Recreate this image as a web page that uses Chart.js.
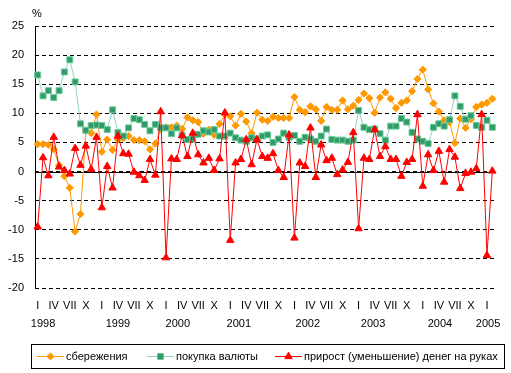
<!DOCTYPE html>
<html lang="ru">
<head>
<meta charset="UTF-8">
<title>Сбережения, покупка валюты и прирост денег на руках</title>
<script src="https://cdn.jsdelivr.net/npm/chart.js"></script>
<style>
  html, body { margin: 0; padding: 0; background: #fff; }
  #chart { display: block; }
</style>
</head>
<body>
<canvas id="chart" width="511" height="373"></canvas>
<script>
// месяцы: январь 1998 - февраль 2005
const years = ['1998', '1999', '2000', '2001', '2002', '2003', '2004', '2005'];
const quarterNames = ['I', '', '', 'IV', '', '', 'VII', '', '', 'X', '', ''];
const monthCount = 86;
// где стоят подписи годов (в месяцах от января 1998)
const yearPos = [1, 15, 26.2, 37.6, 50.5, 62.7, 75.2, 84.2];
const yTicks = [25, 20, 15, 10, 5, 0, -5, -10, -15, -20];

const savings = [
  4.7, 4.7, 4.6, 3.8, 1.1, -0.8, -2.8, -10.3, -7.3, 7.0, 6.6, 9.8,
  3.4, 5.5, 3.7, 5.5, 5.7, 6.1, 5.4, 5.4, 5.2, 3.8, 4.8, 7.3,
  7.6, 7.6, 7.9, 7.3, 9.3, 8.8, 8.5, 6.5, 7.2, 6.3, 8.2, 9.8,
  9.5, 7.9, 9.9, 8.6, 6.6, 10.1, 8.9, 8.7, 9.4, 9.2, 9.2, 9.2,
  12.8, 10.6, 10.2, 11.2, 10.7, 8.7, 11.1, 10.6, 10.6, 12.2, 10.7, 11.3,
  12.3, 13.4, 12.6, 10.1, 12.7, 13.6, 12.5, 10.9, 11.8, 12.2, 13.8, 15.9,
  17.5, 14.1, 11.7, 10.3, 8.8, 8.5, 4.9, 9.1, 7.5, 9.0, 11.1, 11.5,
  11.8, 12.5
];
const currency = [
  16.6, 13.0, 13.9, 12.7, 13.9, 17.1, 19.2, 15.4, 8.2, 7.1, 7.9, 8.0,
  7.9, 7.2, 10.6, 6.7, 6.1, 7.5, 9.1, 8.9, 8.1, 7.0, 8.1, 7.5,
  7.5, 6.5, 7.5, 6.2, 5.5, 5.6, 6.4, 7.0, 6.8, 7.2, 6.1, 6.1,
  6.6, 5.8, 5.4, 5.2, 5.8, 5.6, 6.1, 6.3, 5.0, 5.6, 6.6, 5.9,
  6.2, 5.2, 5.9, 5.6, 5.2, 6.1, 7.3, 5.5, 5.4, 5.4, 5.2, 5.4,
  10.5, 7.6, 7.2, 7.3, 6.5, 5.4, 7.8, 7.8, 9.1, 8.5, 6.7, 5.6,
  5.2, 4.8, 7.6, 8.2, 7.8, 8.9, 13.0, 11.2, 9.0, 9.6, 7.9, 7.6,
  8.8, 7.6
];
const cashChange = [
  -9.5, 2.4, -0.7, 5.9, 0.8, 0.2, -0.4, 4.0, 1.1, 4.4, 0.4, 5.9,
  -6.2, 0.9, -2.8, 6.1, 3.1, 3.0, -0.1, -0.7, -1.5, 2.1, -0.6, 10.3,
  -14.8, 2.2, 2.1, 6.2, 2.6, 6.6, 2.9, 1.5, 2.3, 0.2, 2.2, 10.1,
  -11.8, 1.5, 2.1, 5.5, 1.2, 5.5, 2.6, 2.3, 3.1, 0.2, -1.0, 6.3,
  -11.4, 1.5, 0.9, 7.5, -1.0, 4.6, 1.9, 2.3, -0.5, 0.3, 1.6, 6.7,
  -9.8, 2.3, 2.1, 7.2, 2.6, 4.3, 2.1, 2.1, -0.8, 1.6, 2.1, 9.8,
  -2.5, 2.9, 0.2, 3.5, -1.8, 3.8, 2.5, -2.9, -0.3, -0.1, 0.5, 9.8,
  -14.4, 0.1
];

const labels = [];
for (let i = 0; i < monthCount; i++) {
  labels.push(years[Math.floor(i / 12)] + '-' + (i % 12 + 1));
}

const FONT = "'Liberation Sans', Arial, sans-serif";
Chart.defaults.font.family = FONT;
Chart.defaults.font.size = 11;
Chart.defaults.color = '#000';

const series = [
  { label: 'сбережения', data: savings, line: '#ff9900', fill: '#ff9900', edge: '#ff9900', shape: 'rectRot', radius: 3.6, order: 3 },
  { label: 'покупка валюты', data: currency, line: '#8fd0c4', fill: '#339966', edge: '#66cc99', shape: 'rect', radius: 4.2, order: 2 },
  { label: 'прирост (уменьшение) денег на руках', data: cashChange, line: '#ff0000', fill: '#ff0000', edge: '#ff0000', shape: 'triangle', radius: 4.3, order: 1 }
];

// оси, подписи годов, "%" и легенда
const decor = {
  id: 'decor',
  beforeDatasetsDraw(chart) {
    const { ctx, chartArea: a, scales: { y } } = chart;
    const y0 = Math.round(y.getPixelForValue(0)) + 0.5;
    ctx.save();
    ctx.strokeStyle = '#000';
    ctx.lineWidth = 1;
    ctx.beginPath();
    ctx.moveTo(a.left, y0);
    ctx.lineTo(a.right, y0);
    ctx.moveTo(Math.round(a.left) + 0.5, a.top);
    ctx.lineTo(Math.round(a.left) + 0.5, a.bottom);
    ctx.stroke();
    ctx.restore();
  },
  afterDraw(chart) {
    const { ctx, chartArea: a, scales: { x } } = chart;
    const x0 = x.getPixelForValue(0);
    const step = x.getPixelForValue(1) - x0;
    ctx.save();
    ctx.fillStyle = '#000';
    ctx.font = '11px ' + FONT;
    ctx.textAlign = 'center';
    ctx.textBaseline = 'middle';
    years.forEach((yr, i) => ctx.fillText(yr, x0 + yearPos[i] * step, a.bottom + 36));
    ctx.fillText('%', a.left + 2, 14);

    // легенда
    const top = 344, h = 24, cy = top + h / 2;
    ctx.strokeStyle = '#000';
    ctx.lineWidth = 1;
    ctx.strokeRect(31.5, top + 0.5, 473, h);
    const legendX = [37, 147, 275];
    ctx.textAlign = 'left';
    series.forEach((s, i) => {
      const lx = legendX[i];
      ctx.strokeStyle = s.line;
      ctx.beginPath();
      ctx.moveTo(lx, cy + 0.5);
      ctx.lineTo(lx + 27, cy + 0.5);
      ctx.stroke();
      drawMarker(ctx, s, lx + 13.5, cy + 0.5);
      ctx.fillStyle = '#000';
      ctx.fillText(s.label, lx + 29, cy + 1);
    });
    ctx.restore();
  }
};

function drawMarker(ctx, s, cx, cy) {
  const r = s.radius;
  ctx.save();
  ctx.fillStyle = s.fill;
  ctx.strokeStyle = s.edge;
  ctx.lineWidth = 1;
  ctx.beginPath();
  if (s.shape === 'rect') {
    const h = r * Math.SQRT1_2;
    ctx.rect(cx - h, cy - h, 2 * h, 2 * h);
  } else if (s.shape === 'rectRot') {
    ctx.moveTo(cx, cy - r);
    ctx.lineTo(cx + r, cy);
    ctx.lineTo(cx, cy + r);
    ctx.lineTo(cx - r, cy);
    ctx.closePath();
  } else {
    ctx.moveTo(cx, cy - r);
    ctx.lineTo(cx + r * 0.866, cy + r / 2);
    ctx.lineTo(cx - r * 0.866, cy + r / 2);
    ctx.closePath();
  }
  ctx.fill();
  ctx.stroke();
  ctx.restore();
}

new Chart(document.getElementById('chart'), {
  type: 'line',
  data: {
    labels: labels,
    datasets: series.map(s => ({
      label: s.label,
      data: s.data,
      order: s.order,
      borderColor: s.line,
      borderWidth: 1,
      pointStyle: s.shape,
      pointRadius: s.radius,
      pointBackgroundColor: s.fill,
      pointBorderColor: s.edge,
      pointBorderWidth: 1,
      tension: 0,
      fill: false
    }))
  },
  options: {
    responsive: false,
    animation: false,
    events: [],
    layout: { padding: { left: 0, top: 26, right: 16, bottom: 0 } },
    plugins: { legend: { display: false }, tooltip: { enabled: false } },
    scales: {
      x: {
        offset: true,
        grid: { display: false, drawTicks: false },
        border: { display: false },
        ticks: {
          autoSkip: false,
          maxRotation: 0,
          padding: 11,
          callback: (val, i) => quarterNames[i % 12]
        },
        afterFit: s => { s.height = 85; }
      },
      y: {
        min: -20,
        max: 25,
        afterBuildTicks: s => { s.ticks = yTicks.map(v => ({ value: v })); },
        grid: { color: '#000', lineWidth: 1, drawTicks: false },
        border: { display: false, dash: [4, 3] },
        ticks: { padding: 11 },
        afterFit: s => { s.width = 35; }
      }
    }
  },
  plugins: [decor]
});
</script>
</body>
</html>
